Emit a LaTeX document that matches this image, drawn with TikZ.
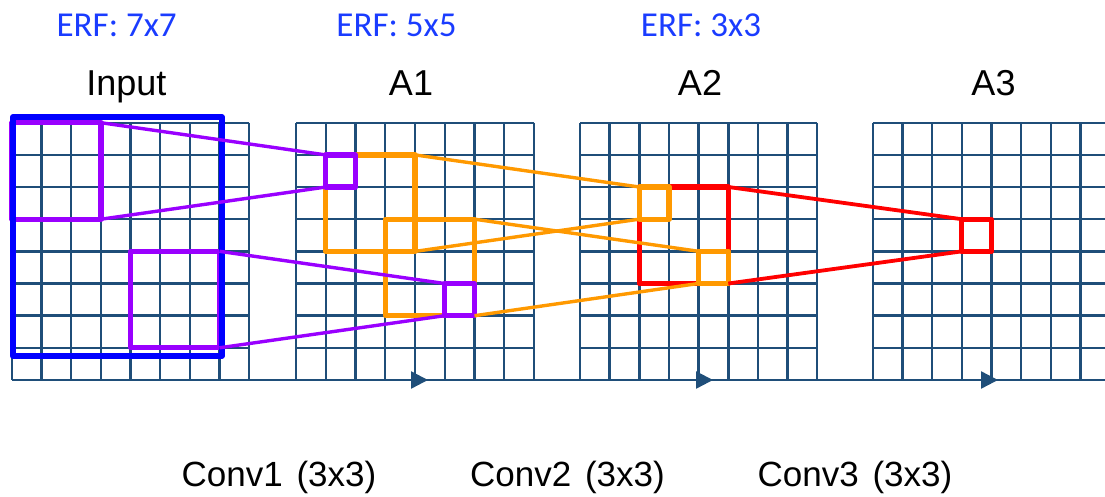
\documentclass[tikz,border=0pt]{standalone}
\usepackage{fontspec}
\setmainfont{Liberation Sans}
\newfontfamily\erffont{Carlito}
\usetikzlibrary{arrows.meta}
\definecolor{gridc}{RGB}{31,78,121}
\definecolor{purp}{RGB}{153,0,255}
\definecolor{oran}{RGB}{255,153,0}
\definecolor{redc}{RGB}{255,0,0}
\definecolor{bluec}{RGB}{0,0,255}
\definecolor{erfc}{RGB}{26,60,255}
\tikzset{
  gridline/.style={draw=gridc, line width=2.4pt},
  boxbase/.style={draw, rectangle, inner sep=0pt, outer sep=0pt, line width=5.2pt, line join=round, anchor=north west},
  pbox/.style={boxbase, draw=purp},
  obox/.style={boxbase, draw=oran},
  rbox/.style={boxbase, draw=redc},
  bbox/.style={boxbase, draw=bluec, line width=6pt},
  plink/.style={draw=purp, line width=3.4pt},
  olink/.style={draw=oran, line width=3.4pt},
  rlink/.style={draw=redc, line width=3.8pt},
  arr/.style={draw=gridc, line width=2.4pt, -{Triangle[length=17pt,width=17pt]}},
  erflabel/.style={text=erfc, font=\erffont\fontsize{35}{40}\selectfont, anchor=base, inner sep=0pt},
  maplabel/.style={font=\fontsize{36}{42}\selectfont, anchor=base, inner sep=0pt},
  convlabel/.style={font=\fontsize{35}{40}\selectfont, anchor=base, inner sep=0pt}
}
\newcommand\featgrid[2]{%
  \foreach \i in {0,...,8} {\draw[gridline] ({#1+\i*#2},122.7) -- ({#1+\i*#2},380);}
  \foreach \j in {0,...,8} {\draw[gridline] (#1,{122.7+\j*32.16}) -- ({#1+8*#2},{122.7+\j*32.16});}
}
\begin{document}
\begin{tikzpicture}[x=1pt,y=-1pt]
\useasboundingbox (0,0) rectangle (1105,496);
% grids
\featgrid{12}{29.63}
\featgrid{296}{29.75}
\featgrid{580}{29.66}
\featgrid{872.7}{29.7}
% arrows
\coordinate (a0) at (143,380);
\coordinate (a1) at (428,380);
\coordinate (a2) at (713,380);
\coordinate (a3) at (998,380);
\draw[arr] (a0) -- (a1);
\draw[arr] (a1) -- (a2);
\draw[arr] (a2) -- (a3);
% boxes
\node[rbox, minimum width=29.7pt, minimum height=32.16pt] (rs) at (961.8,219.2) {};
\node[rbox, minimum width=89pt, minimum height=96.5pt] (r1) at (639.3,187) {};
\node[obox, minimum width=29.7pt, minimum height=32.16pt] (os1) at (639.3,187) {};
\node[obox, minimum width=29.7pt, minimum height=32.16pt] (os2) at (698.6,251.3) {};
\node[obox, minimum width=89.25pt, minimum height=96.5pt] (o1) at (325.75,154.9) {};
\node[obox, minimum width=89.25pt, minimum height=96.5pt] (o2) at (385.25,219.2) {};
\node[pbox, minimum width=29.75pt, minimum height=32.16pt] (ps1) at (325.75,154.9) {};
\node[pbox, minimum width=29.75pt, minimum height=32.16pt] (ps2) at (444.75,283.5) {};
\node[pbox, minimum width=88.9pt, minimum height=96.5pt] (p1) at (12,122.7) {};
\node[pbox, minimum width=88.9pt, minimum height=96.5pt] (p2) at (130.5,251.3) {};
\node[bbox, minimum width=208.7pt, minimum height=239pt] (blue) at (13,117) {};
% connectors
\draw[plink] (p1.north east) -- (ps1.north west);
\draw[plink] (p1.south east) -- (ps1.south west);
\draw[plink] (p2.north east) -- (ps2.north west);
\draw[plink] (p2.south east) -- (ps2.south west);
\draw[olink] (o1.north east) -- (os1.north west);
\draw[olink] (o1.south east) -- (os1.south west);
\draw[olink] (o2.north east) -- (os2.north west);
\draw[olink] (o2.south east) -- (os2.south west);
\draw[rlink] (r1.north east) -- (rs.north west);
\draw[rlink] (r1.south east) -- (rs.south west);
% labels
\node[erflabel] (erf1) at (116.7,36) {ERF: 7x7};
\node[erflabel] (erf2) at (396.5,36) {ERF: 5x5};
\node[erflabel] (erf3) at (701,36) {ERF: 3x3};
\node[maplabel] (lin) at (126.3,95) {Input};
\node[maplabel] (la1) at (411,95) {A1};
\node[maplabel] (la2) at (700,95) {A2};
\node[maplabel] (la3) at (993.5,95) {A3};
\node[convlabel] (c1) at (279,486.7) {Conv1\hspace{4pt} (3x3)};
\node[convlabel] (c2) at (567.5,486.7) {Conv2\hspace{4pt} (3x3)};
\node[convlabel] (c3) at (855,486.7) {Conv3\hspace{4pt} (3x3)};
\end{tikzpicture}
\end{document}
